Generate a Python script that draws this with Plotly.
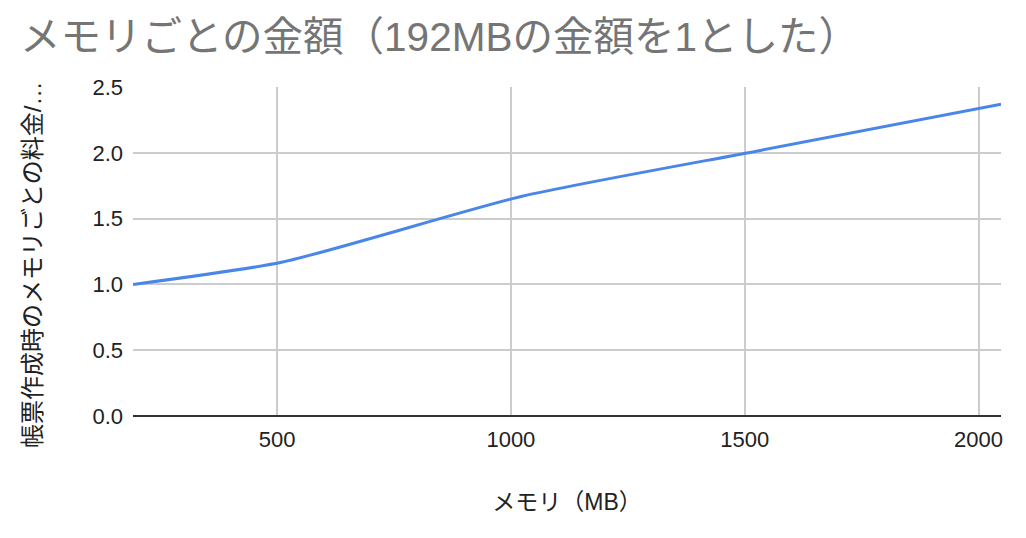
import plotly.graph_objects as go

memory_mb = [192, 512, 1024, 1536, 2048]
cost_ratio = [1.0, 1.17, 1.67, 2.02, 2.37]

x_ticks = [500, 1000, 1500, 2000]
y_ticks = [0.0, 0.5, 1.0, 1.5, 2.0, 2.5]

font_fam = "Liberation Sans, Arial, Noto Sans CJK JP, sans-serif"

W, H = 1026, 538
L, R, T, B = 133, 25, 87, 122
pw, ph = W - L - R, H - T - B

fig = go.Figure()
fig.add_trace(go.Scatter(
    x=memory_mb, y=cost_ratio, mode="lines",
    line=dict(color="#4a86e8", width=3, shape="spline", smoothing=0.6),
    hoverinfo="x+y",
))

fig.update_layout(
    width=W, height=H,
    paper_bgcolor="white", plot_bgcolor="white",
    margin=dict(l=L, r=R, t=T, b=B),
    showlegend=False,
    title=dict(
        text="メモリごとの金額（192MBの金額を1とした）",
        font=dict(family=font_fam, size=40.5, color="#757575"),
        x=20/W, xanchor="left", xref="container",
        y=1-37/H, yanchor="middle", yref="container",
        pad=dict(l=0, r=0, t=0, b=0),
    ),
    xaxis=dict(
        range=[192, 2048],
        tickvals=x_ticks,
        ticktext=[str(v) for v in x_ticks],
        showgrid=True, gridcolor="#cccccc", gridwidth=2,
        zeroline=False, showline=False, ticks="",
        automargin=False,
        ticklabelstandoff=8,
        tickfont=dict(family=font_fam, size=22, color="#222222"),
        title=dict(text="メモリ（MB）", font=dict(family=font_fam, size=23, color="#222222"), standoff=42),
    ),
    yaxis=dict(
        range=[0, 2.5],
        tickvals=y_ticks,
        ticktext=[f"{v:.1f}" for v in y_ticks],
        showgrid=True, gridcolor="#cccccc", gridwidth=2,
        zeroline=True, zerolinecolor="#333333", zerolinewidth=2,
        showline=False, ticks="",
        automargin=False,
        ticklabelstandoff=9,
        tickfont=dict(family=font_fam, size=22, color="#222222"),
    ),
)

fig.add_annotation(
    text="帳票作成時のメモリごとの料金/…",
    xref="paper", yref="paper",
    x=(32 - L) / pw, y=(T + ph - 265) / ph,
    xanchor="center", yanchor="middle",
    textangle=-90, showarrow=False,
    font=dict(family=font_fam, size=24, color="#222222"),
)

fig.write_html("out.html", post_script="document.body.style.margin='0';",
               config={"displayModeBar": False})
